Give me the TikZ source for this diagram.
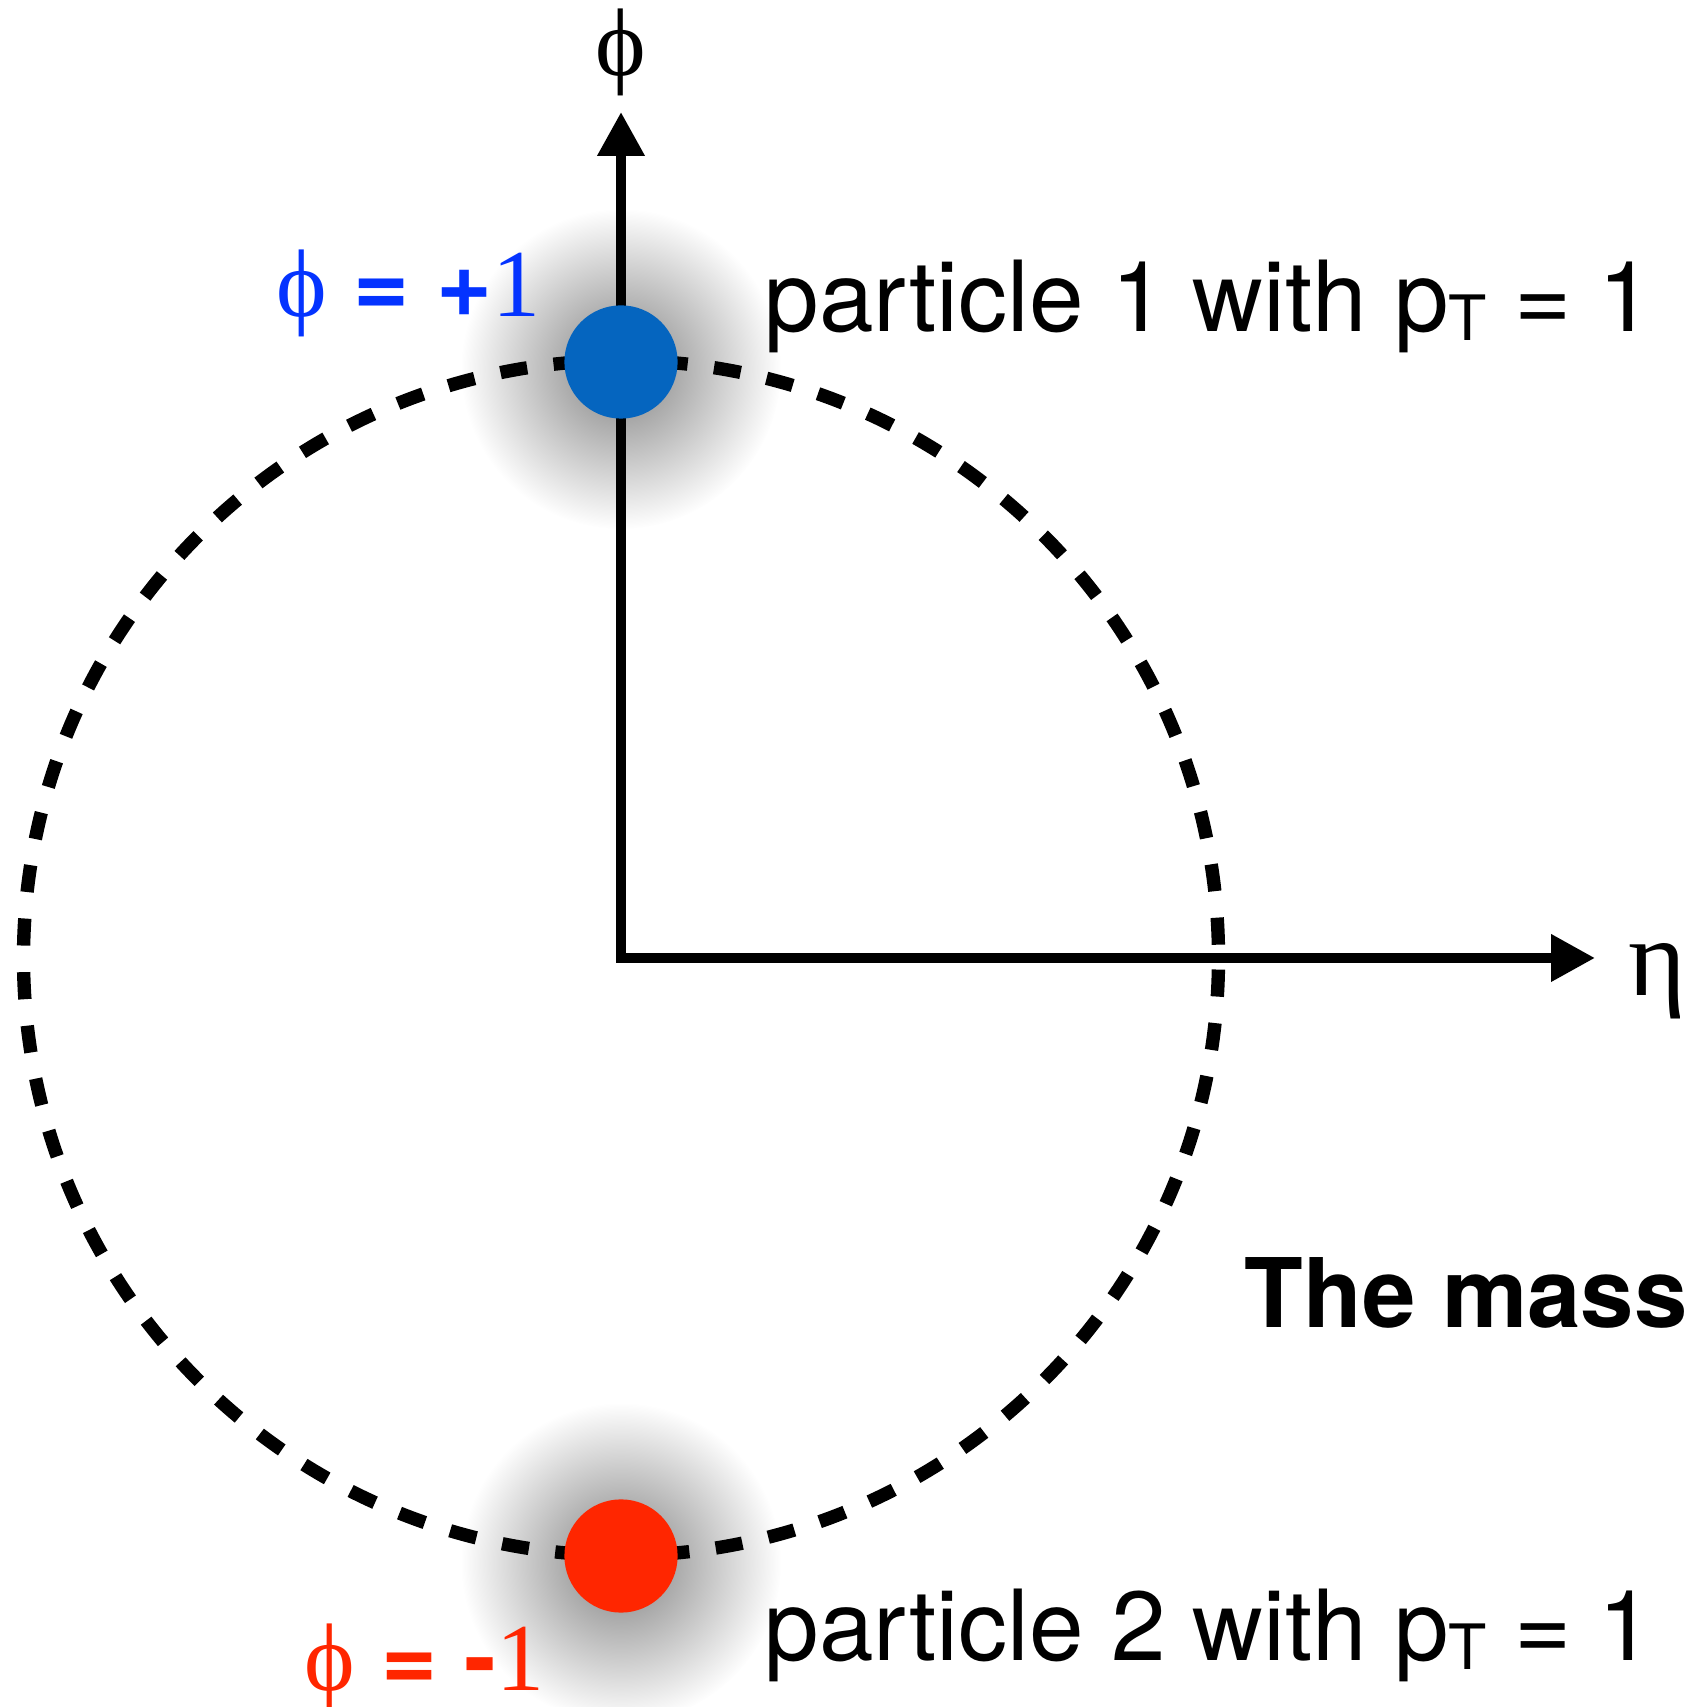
\documentclass[tikz,border=0pt]{standalone}
\usepackage{fontspec}
\setmainfont{TeX Gyre Heros}
\newfontfamily\grkfont{Liberation Serif}
\usetikzlibrary{arrows.meta,fadings}

\def\rcirc{597.5}
\def\dotd{32.2pt}
\definecolor{ptblue}{HTML}{0565BF}
\definecolor{ptred}{HTML}{FF2600}
\definecolor{lblblue}{HTML}{0433FF}
\definecolor{lblred}{HTML}{FF2600}
\newcommand{\phisym}{{\grkfont\symbol{"03D5}}}
\newcommand{\ptsub}{p\raisebox{-2.3pt}{\fontsize{17.8}{18}\selectfont T}}
\tikzfading[name=glowfade, inner color=transparent!50, outer color=transparent!100]

\begin{document}
\begin{tikzpicture}[
    x=0.01cm, y=0.01cm,
    font=\fontsize{27.3}{32}\selectfont,
    axisline/.style={
      line width=2.85pt,
      {Triangle[length=12.5pt, width=12.8pt]}-{Triangle[length=12.5pt, width=12.8pt]}
    },
    dashcirc/.style={
      line width=3.8pt,
      dash pattern=on 7.7pt off 7.56pt,
      dash phase=11.48pt
    },
    particle/.style={
      circle,
      inner sep=0pt,
      minimum size=\dotd
    },
    glow/.style={black, path fading=glowfade},
    lbl/.style={inner sep=0pt, anchor=base west},
    ptlbl/.style={lbl, font=\fontsize{27.9}{32}\selectfont}
  ]

  \useasboundingbox (0,0) rectangle (1686,1707);

  \coordinate (O) at (621,749);
  \coordinate (phitip) at (621,1595);
  \coordinate (etatip) at (1595,749);

  % --------------------------------------------------------------------
  % Dashed circle
  % --------------------------------------------------------------------

  \draw[dashcirc] (O) circle [radius=\rcirc];

  % --------------------------------------------------------------------
  % Axes
  % --------------------------------------------------------------------

  \draw[axisline] (phitip) -- (O) -- (etatip);

  \node[lbl, anchor=base, font=\fontsize{27.3}{32}\selectfont\grkfont]
    (philbl) at (621,1631) {\symbol{"03D5}};
  \node[lbl, font=\fontsize{31.4}{36}\selectfont\grkfont]
    (etalbl) at (1628,711) {\symbol{"03B7}};

  % --------------------------------------------------------------------
  % Particles
  % --------------------------------------------------------------------

  \coordinate (c1) at (621,1345);
  \coordinate (c2) at (621,151);

  \fill[glow] ([yshift=-2pt]c1) circle [radius=160];
  \fill[glow] ([yshift=-2pt]c2) circle [radius=160];

  \node[particle, fill=ptblue] (p1) at (c1) {};
  \node[particle, fill=ptred] (p2) at (c2) {};

  % --------------------------------------------------------------------
  % Labels
  % --------------------------------------------------------------------

  \node[lbl, text=lblblue] (p1phi) at (276,1390)
    {\phisym\ \textbf{=}\ \textbf{+}{\grkfont 1}};
  \node[lbl, text=lblred] (p2phi) at (304,17)
    {\phisym\ \textbf{=}\ \textbf{-}{\grkfont 1}};

  \node[ptlbl] (p1txt) at (764,1375) {particle 1 with \ptsub\ = 1};
  \node[ptlbl] (p2txt) at (764,46) {particle 2 with \ptsub\ = 1};

  \node[lbl, font=\fontsize{27.3}{32}\selectfont\bfseries] (masstxt) at (1244,379) {The mass};

\end{tikzpicture}
\end{document}
